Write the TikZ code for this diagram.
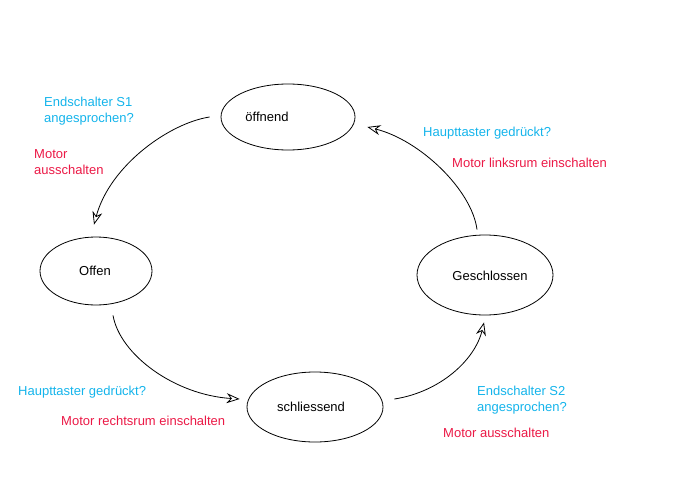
\documentclass[tikz,border=0pt]{standalone}
\usepackage{fontspec}
\setmainfont{Liberation Sans}
\usetikzlibrary{arrows.meta,shapes.geometric}
\definecolor{qcyan}{RGB}{20,180,235}
\definecolor{qred}{RGB}{235,25,70}
\tikzset{
  state/.style={draw=black,line width=0.8pt,ellipse,inner sep=0pt},
  stxt/.style={inner sep=0pt,anchor=base,font=\fontsize{13}{16}\selectfont,text=black},
  cond/.style={inner sep=0pt,anchor=base west,align=left,font=\fontsize{13}{16}\selectfont,text=qcyan},
  act/.style={inner sep=0pt,anchor=base west,align=left,font=\fontsize{13}{16}\selectfont,text=qred},
  arr/.style={line width=0.8pt,-{Stealth[open,length=13pt,width=10pt]}}
}
\begin{document}
\begin{tikzpicture}[x=1pt,y=-1pt]
\useasboundingbox (0,0) rectangle (677,503);
% states
\node[state,minimum width=134pt,minimum height=66pt] (oe) at (288,117) {};
\node[state,minimum width=112pt,minimum height=68pt] (of) at (96,271) {};
\node[state,minimum width=136pt,minimum height=70pt] (sc) at (315,407) {};
\node[state,minimum width=136pt,minimum height=80pt] (gs) at (485,275) {};
\node[stxt] (oet) at (267,121) {öffnend};
\node[stxt] (oft) at (95,275) {Offen};
\node[stxt] (sct) at (311,411) {schliessend};
\node[stxt] (gst) at (490,280) {Geschlossen};
% labels (base = last line)
\node[cond] (c1) at (44,122) {Endschalter S1\\angesprochen?};
\node[act] (a1) at (34,174) {Motor\\ausschalten};
\node[cond] (c2) at (423,136) {Haupttaster gedrückt?};
\node[act] (a2) at (452,167) {Motor linksrum einschalten};
\node[cond] (c3) at (18,395) {Haupttaster gedrückt?};
\node[act] (a3) at (61,425) {Motor rechtsrum einschalten};
\node[cond] (c4) at (477,411) {Endschalter S2\\angesprochen?};
\node[act] (a4) at (443,437) {Motor ausschalten};
% transitions
\draw[arr] ([xshift=-11pt]oe.west) .. controls (170,123) and (110,165) .. ([shift={(-2pt,12pt)}]of.north);
\draw[arr] ([shift={(17pt,-10pt)}]of.south) .. controls (120,355) and (175,395) .. ([shift={(-7pt,8pt)}]sc.west);
\draw[arr] ([shift={(11pt,8pt)}]sc.east) .. controls (440,392) and (475,360) .. ([shift={(-1pt,-7pt)}]gs.south);
\draw[arr] ([shift={(-8pt,5pt)}]gs.north) .. controls (472,190) and (420,140) .. ([shift={(12pt,-10pt)}]oe.east);
\end{tikzpicture}
\end{document}
